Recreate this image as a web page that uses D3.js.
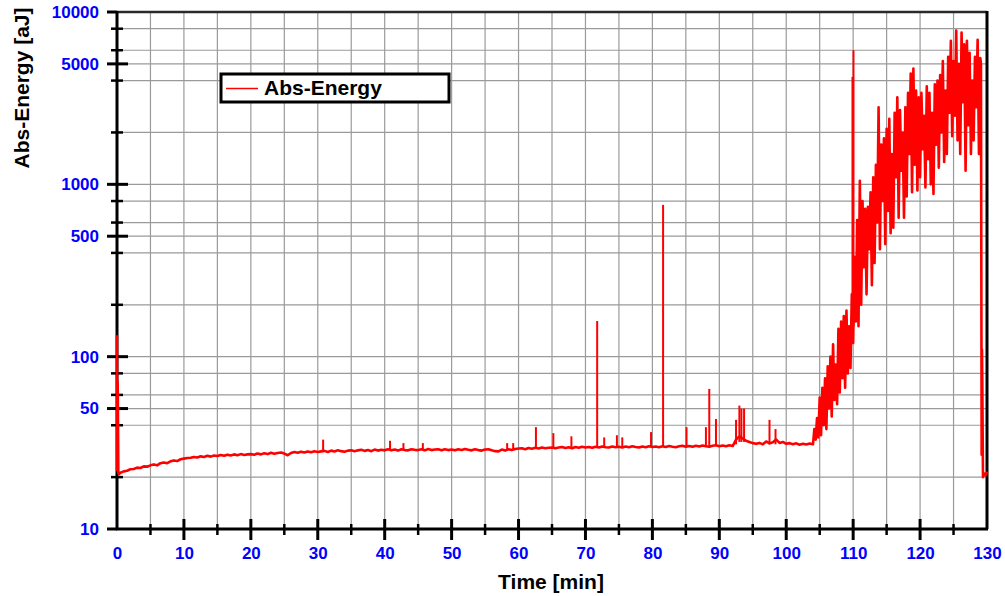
<!DOCTYPE html>
<html>
<head>
<meta charset="utf-8">
<script src="https://cdn.jsdelivr.net/npm/d3@7"></script>
<style>
  html, body { margin: 0; padding: 0; background: #ffffff; }
  svg { display: block; font-family: Arial, "Liberation Sans", sans-serif; }
</style>
</head>
<body>
<svg id="chart" width="1005" height="596"></svg>
<script>
// ---------------- data ----------------
const seriesName = "Abs-Energy";
const xTitle = "Time [min]";
const yTitle = "Abs-Energy [aJ]";

const xMajorTicks = [0, 10, 20, 30, 40, 50, 60, 70, 80, 90, 100, 110, 120, 130];
const xMinorTicks = [5, 15, 25, 35, 45, 55, 65, 75, 85, 95, 105, 115, 125];
const yMajorTicks = [10, 50, 100, 500, 1000, 5000, 10000];
const yMinorTicks = [20, 40, 60, 80, 200, 400, 600, 800, 2000, 4000, 6000, 8000];

// start of record (minutes, aJ)
const headTime = [0, 0.03, 0.08, 0.12, 0.2, 0.3];
const headValue = [133, 22, 72, 60, 21, 20.8];

// slowly rising baseline, sampled every 0.5 min from 0.5 to 103.5 min
const baseStart = 0.5, baseStep = 0.5;
const baseValue = [
  21.2, 21.6, 21.8, 22.2, 22.3, 22.7, 22.6, 23.1, 23.0, 23.4,
  23.7, 23.4, 24.1, 24.3, 24.1, 24.7, 25.0, 24.8, 25.4, 25.6,
  25.8, 25.9, 26.2, 26.0, 26.4, 26.2, 26.6, 26.3, 26.7, 26.5,
  26.9, 26.6, 27.0, 26.7, 27.1, 26.8, 27.2, 26.9, 27.1, 27.2,
  27.0, 27.4, 27.1, 27.5, 27.2, 27.7, 27.3, 27.6, 27.8, 27.4,
  26.8, 27.6, 28.0, 27.7, 28.1, 27.8, 28.2, 27.9, 28.3, 28.0,
  28.2, 28.4, 28.0, 28.5, 28.2, 28.6, 28.3, 28.1, 28.5, 28.6,
  28.3, 28.6, 28.8, 28.4, 28.7, 28.3, 28.9, 28.5, 28.8, 28.6,
  29.0, 28.6, 28.9, 28.5, 29.0, 28.7, 28.6, 29.0, 28.8, 28.7,
  29.0, 28.6, 29.1, 28.7, 28.9, 29.0, 28.6, 29.0, 28.7, 28.9,
  28.6, 29.0, 28.7, 29.1, 28.8, 28.6, 29.0, 28.7, 28.5, 28.9,
  29.0, 28.6, 28.3, 28.2, 28.9, 28.5, 29.0, 28.7, 29.1, 29.3,
  29.4, 29.0, 29.5, 29.2, 29.6, 29.3, 29.7, 29.4, 29.6, 29.7,
  29.4, 29.7, 29.9, 29.5, 29.8, 29.4, 29.9, 29.6, 30.0, 29.7,
  29.9, 29.6, 30.0, 29.7, 30.1, 29.8, 29.7, 30.1, 29.8, 30.0,
  29.7, 30.1, 29.8, 30.2, 29.9, 29.7, 30.1, 29.8, 30.2, 29.9,
  30.1, 29.8, 30.2, 29.9, 30.3, 30.0, 29.8, 30.2, 30.4, 30.0,
  30.3, 30.0, 30.4, 30.1, 30.5, 30.2, 30.0, 30.4, 30.6, 30.2,
  30.5, 30.2, 30.6, 30.3, 33.0, 34.5, 33.5, 32.5, 32.0, 31.5,
  31.2, 31.6, 31.0, 32.2, 31.4, 31.9, 33.0, 31.6, 32.0, 31.2,
  31.5, 31.0, 31.4, 30.8, 31.2, 30.9, 31.3
];

// strongly fluctuating final phase, sampled every 0.2 min from 104.0 to 129.0 min
const burstStart = 104.0, burstStep = 0.2;
const burstValue = [
  31, 38, 33, 44, 34,
  58, 35, 66, 40, 75,
  38, 88, 50, 100, 45,
  118, 56, 90, 53, 145,
  62, 160, 75, 172, 66,
  185, 80, 150, 86, 230,
  120, 380, 160, 620, 150,
  1050, 200, 800, 330, 720,
  230, 740, 420, 900, 260,
  1100, 350, 1300, 600, 2800,
  420, 1700, 800, 1850, 450,
  2100, 700, 2400, 520, 1500,
  560, 2600, 1100, 3200, 640,
  2700, 1200, 2000, 640, 2800,
  850, 3400, 1500, 4400, 900,
  4700, 1300, 3500, 920, 3200,
  1100, 3400, 1600, 2500, 960,
  3700, 1400, 3400, 1000, 2600,
  880, 3800, 1700, 4000, 1250,
  4300, 2000, 5200, 1350, 3500,
  1500, 5500, 2600, 6800, 1900,
  5200, 2500, 7800, 1800, 5000,
  1500, 7600, 3000, 6500, 1200,
  6800, 2200, 5800, 1500, 4000,
  1800, 5500, 2800, 6900, 1500,
  5400
];

// end of record
const tailTime = [129.1, 129.2, 129.25, 129.3, 129.4, 129.6, 129.8, 130];
const tailValue = [5000, 27, 110, 70, 20, 21, 20.5, 21.5];

// isolated bursts (time, value before, peak value)
const spikeTime = [30.8, 40.8, 42.8, 45.7, 58.3, 59.2, 62.6, 65.2, 67.9, 71.75, 72.8, 74.7, 75.5, 79.8, 81.6, 85.1, 88.0, 88.5, 89.5, 92.5, 93.0, 93.3, 93.7, 97.5, 98.4, 109.9, 110.05];
const spikeLow  = [28, 28.5, 28.5, 28.7, 28.7, 28.9, 29.3, 29.5, 29.6, 29.8, 29.8, 29.9, 29.8, 29.9, 29.9, 30.1, 30.2, 30.2, 30.3, 31, 32, 32, 32, 31, 31, 150, 150];
const spikePeak = [33, 32.5, 31.5, 31.5, 31.5, 31.5, 39, 36, 34.5, 161, 34, 35, 34, 36.5, 760, 39, 39, 65, 43.5, 43, 52, 50, 50, 43, 38, 4200, 6000];

// ---------------- chart ----------------
const svg = d3.select("#chart");
const pLeft = 117, pRight = 987, pTop = 12, pBottom = 529;

const x = d3.scaleLinear().domain([0, 130]).range([pLeft, pRight]);
const y = d3.scaleLog().domain([10, 10000]).range([pBottom, pTop]);

const gridColor = "#9a9a9a";
const g = svg.append("g");

// grid
g.append("g").selectAll("line").data(xMajorTicks.concat(xMinorTicks).filter(d => d > 0 && d < 130))
  .join("line")
  .attr("x1", d => x(d)).attr("x2", d => x(d))
  .attr("y1", pTop).attr("y2", pBottom)
  .attr("stroke", gridColor).attr("stroke-width", 1.2);
g.append("g").selectAll("line").data(yMajorTicks.concat(yMinorTicks).filter(d => d > 10 && d < 10000))
  .join("line")
  .attr("x1", pLeft).attr("x2", pRight)
  .attr("y1", d => y(d)).attr("y2", d => y(d))
  .attr("stroke", gridColor).attr("stroke-width", 1.2);

// frame: top and right
g.append("line").attr("x1", pLeft).attr("x2", pRight).attr("y1", pTop).attr("y2", pTop)
  .attr("stroke", "#2a2a2a").attr("stroke-width", 2.5);
g.append("line").attr("x1", pRight).attr("x2", pRight).attr("y1", pTop - 1).attr("y2", pBottom)
  .attr("stroke", "#000").attr("stroke-width", 3);

// axes lines
g.append("line").attr("x1", pLeft).attr("x2", pLeft).attr("y1", pTop - 1).attr("y2", pBottom + 1)
  .attr("stroke", "#000").attr("stroke-width", 3);
g.append("line").attr("x1", pLeft - 1).attr("x2", pRight + 1).attr("y1", pBottom).attr("y2", pBottom)
  .attr("stroke", "#000").attr("stroke-width", 3);

// tick marks crossing the axes
g.append("g").selectAll("line").data(xMajorTicks.filter(d => d > 0 && d < 130)).join("line")
  .attr("x1", d => x(d)).attr("x2", d => x(d))
  .attr("y1", pBottom - 10).attr("y2", pBottom + 11)
  .attr("stroke", "#000").attr("stroke-width", 3);
g.append("g").selectAll("line").data(xMinorTicks).join("line")
  .attr("x1", d => x(d)).attr("x2", d => x(d))
  .attr("y1", pBottom - 5).attr("y2", pBottom + 6)
  .attr("stroke", "#000").attr("stroke-width", 2.5);
g.append("g").selectAll("line").data(yMajorTicks).join("line")
  .attr("x1", pLeft - 10).attr("x2", d => (d === 10 || d === 10000) ? pLeft : pLeft + 11)
  .attr("y1", d => y(d)).attr("y2", d => y(d))
  .attr("stroke", "#000").attr("stroke-width", 3);
g.append("g").selectAll("line").data(yMinorTicks).join("line")
  .attr("x1", pLeft - 6).attr("x2", pLeft + 6)
  .attr("y1", d => y(d)).attr("y2", d => y(d))
  .attr("stroke", "#000").attr("stroke-width", 2.5);

// series points
const pts = [];
headTime.forEach((t, i) => pts.push([t, headValue[i]]));
baseValue.forEach((v, i) => pts.push([baseStart + i * baseStep, v]));
burstValue.forEach((v, i) => pts.push([burstStart + i * burstStep, v]));
tailTime.forEach((t, i) => pts.push([t, tailValue[i]]));

const line = d3.line().x(d => x(d[0])).y(d => y(d[1]));

const plot = g.append("g");
plot.append("path")
  .attr("d", line(pts))
  .attr("fill", "none")
  .attr("stroke", "#ff0000")
  .attr("stroke-width", 2.6)
  .attr("stroke-linejoin", "round");

plot.append("g").selectAll("path")
  .data(spikeTime.map((t, i) => [[t, spikeLow[i]], [t, spikePeak[i]]]))
  .join("path")
  .attr("d", d => line(d))
  .attr("fill", "none")
  .attr("stroke", "#ff0000")
  .attr("stroke-width", 2);

// tick labels via d3 axes
const xAxis = d3.axisBottom(x).tickValues(xMajorTicks).tickSize(0).tickPadding(18).tickFormat(d3.format("d"));
const yAxis = d3.axisLeft(y).tickValues(yMajorTicks).tickSize(0).tickPadding(18).tickFormat(d3.format("d"));

const xa = svg.append("g").attr("transform", `translate(0,${pBottom})`).call(xAxis);
const ya = svg.append("g").attr("transform", `translate(${pLeft},0)`).call(yAxis);
[xa, ya].forEach(a => {
  a.select(".domain").remove();
  a.selectAll("text")
    .attr("fill", "#0000ff")
    .style("font-family", "Arial, 'Liberation Sans', sans-serif")
    .style("font-size", "17px")
    .style("font-weight", "bold");
});

// axis titles
svg.append("text")
  .attr("x", 551).attr("y", 589)
  .attr("text-anchor", "middle")
  .style("font-size", "21px").style("font-weight", "bold")
  .attr("fill", "#000")
  .text(xTitle);
svg.append("text")
  .attr("transform", "translate(29,88) rotate(-90)")
  .attr("text-anchor", "middle")
  .style("font-size", "21px").style("font-weight", "bold")
  .attr("fill", "#000")
  .text(yTitle);

// legend
const lg = svg.append("g");
lg.append("rect").attr("x", 221).attr("y", 74).attr("width", 228).attr("height", 28)
  .attr("fill", "#fff").attr("stroke", "#000").attr("stroke-width", 3);
lg.append("line").attr("x1", 226).attr("x2", 258).attr("y1", 88.5).attr("y2", 88.5)
  .attr("stroke", "#ff0000").attr("stroke-width", 1.5);
lg.append("text").attr("x", 264).attr("y", 95)
  .style("font-size", "21px").style("font-weight", "bold")
  .attr("fill", "#000")
  .text(seriesName);
</script>
</body>
</html>
